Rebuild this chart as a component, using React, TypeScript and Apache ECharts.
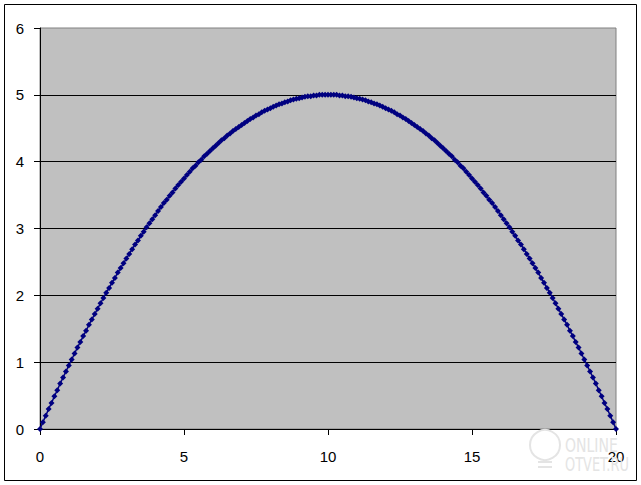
import React, { useEffect, useRef } from "react";
import * as echarts from "echarts";

const xValues: number[] = [
  0, 0.1, 0.2, 0.3, 0.4, 0.5, 0.6, 0.7, 0.8, 0.9,
  1, 1.1, 1.2, 1.3, 1.4, 1.5, 1.6, 1.7, 1.8, 1.9,
  2, 2.1, 2.2, 2.3, 2.4, 2.5, 2.6, 2.7, 2.8, 2.9,
  3, 3.1, 3.2, 3.3, 3.4, 3.5, 3.6, 3.7, 3.8, 3.9,
  4, 4.1, 4.2, 4.3, 4.4, 4.5, 4.6, 4.7, 4.8, 4.9,
  5, 5.1, 5.2, 5.3, 5.4, 5.5, 5.6, 5.7, 5.8, 5.9,
  6, 6.1, 6.2, 6.3, 6.4, 6.5, 6.6, 6.7, 6.8, 6.9,
  7, 7.1, 7.2, 7.3, 7.4, 7.5, 7.6, 7.7, 7.8, 7.9,
  8, 8.1, 8.2, 8.3, 8.4, 8.5, 8.6, 8.7, 8.8, 8.9,
  9, 9.1, 9.2, 9.3, 9.4, 9.5, 9.6, 9.7, 9.8, 9.9,
  10, 10.1, 10.2, 10.3, 10.4, 10.5, 10.6, 10.7, 10.8, 10.9,
  11, 11.1, 11.2, 11.3, 11.4, 11.5, 11.6, 11.7, 11.8, 11.9,
  12, 12.1, 12.2, 12.3, 12.4, 12.5, 12.6, 12.7, 12.8, 12.9,
  13, 13.1, 13.2, 13.3, 13.4, 13.5, 13.6, 13.7, 13.8, 13.9,
  14, 14.1, 14.2, 14.3, 14.4, 14.5, 14.6, 14.7, 14.8, 14.9,
  15, 15.1, 15.2, 15.3, 15.4, 15.5, 15.6, 15.7, 15.8, 15.9,
  16, 16.1, 16.2, 16.3, 16.4, 16.5, 16.6, 16.7, 16.8, 16.9,
  17, 17.1, 17.2, 17.3, 17.4, 17.5, 17.6, 17.7, 17.8, 17.9,
  18, 18.1, 18.2, 18.3, 18.4, 18.5, 18.6, 18.7, 18.8, 18.9,
  19, 19.1, 19.2, 19.3, 19.4, 19.5, 19.6, 19.7, 19.8, 19.9,
  20,
];

const yValues: number[] = [
  0, 0.1, 0.2, 0.3, 0.39, 0.49, 0.58, 0.68, 0.77, 0.86,
  0.95, 1.04, 1.13, 1.22, 1.3, 1.39, 1.47, 1.56, 1.64, 1.72,
  1.8, 1.88, 1.96, 2.04, 2.11, 2.19, 2.26, 2.34, 2.41, 2.48,
  2.55, 2.62, 2.69, 2.76, 2.82, 2.89, 2.95, 3.02, 3.08, 3.14,
  3.2, 3.26, 3.32, 3.38, 3.43, 3.49, 3.54, 3.6, 3.65, 3.7,
  3.75, 3.8, 3.85, 3.9, 3.94, 3.99, 4.03, 4.08, 4.12, 4.16,
  4.2, 4.24, 4.28, 4.32, 4.35, 4.39, 4.42, 4.46, 4.49, 4.52,
  4.55, 4.58, 4.61, 4.64, 4.66, 4.69, 4.71, 4.74, 4.76, 4.78,
  4.8, 4.82, 4.84, 4.86, 4.87, 4.89, 4.9, 4.92, 4.93, 4.94,
  4.95, 4.96, 4.97, 4.98, 4.98, 4.99, 4.99, 5, 5, 5,
  5, 5, 5, 5, 4.99, 4.99, 4.98, 4.98, 4.97, 4.96,
  4.95, 4.94, 4.93, 4.92, 4.9, 4.89, 4.87, 4.86, 4.84, 4.82,
  4.8, 4.78, 4.76, 4.74, 4.71, 4.69, 4.66, 4.64, 4.61, 4.58,
  4.55, 4.52, 4.49, 4.46, 4.42, 4.39, 4.35, 4.32, 4.28, 4.24,
  4.2, 4.16, 4.12, 4.08, 4.03, 3.99, 3.94, 3.9, 3.85, 3.8,
  3.75, 3.7, 3.65, 3.6, 3.54, 3.49, 3.43, 3.38, 3.32, 3.26,
  3.2, 3.14, 3.08, 3.02, 2.95, 2.89, 2.82, 2.76, 2.69, 2.62,
  2.55, 2.48, 2.41, 2.34, 2.26, 2.19, 2.11, 2.04, 1.96, 1.88,
  1.8, 1.72, 1.64, 1.56, 1.47, 1.39, 1.3, 1.22, 1.13, 1.04,
  0.95, 0.86, 0.77, 0.68, 0.58, 0.49, 0.39, 0.3, 0.2, 0.1,
  0,
];

const xAxisMin = 0;
const xAxisMax = 20;
const xAxisStep = 5;
const yAxisMin = 0;
const yAxisMax = 6;
const yAxisStep = 1;

export default function App() {
  const ref = useRef<HTMLDivElement>(null);

  useEffect(() => {
    if (!ref.current) return;
    const chart = echarts.init(ref.current, undefined, { renderer: "svg" });
    const points = xValues.map((x, i) => [x, yValues[i]]);
    const font = "Arial, 'Liberation Sans', sans-serif";
    const wmFont = "'DejaVu Sans Condensed', 'DejaVu Sans', sans-serif";
    chart.setOption({
      animation: false,
      backgroundColor: "#ffffff",
      grid: {
        left: 40,
        top: 28,
        right: 25,
        bottom: 56,
        show: true,
        backgroundColor: "#C0C0C0",
        borderColor: "#808080",
        borderWidth: 1,
      },
      xAxis: {
        type: "value",
        min: xAxisMin,
        max: xAxisMax,
        interval: xAxisStep,
        axisLine: { show: true, onZero: false, lineStyle: { color: "#000000", width: 1 } },
        axisTick: { show: true, inside: false, length: 6, lineStyle: { color: "#000000" } },
        axisLabel: { color: "#000000", fontSize: 15, fontFamily: font, margin: 20 },
        splitLine: { show: false },
      },
      yAxis: {
        type: "value",
        min: yAxisMin,
        max: yAxisMax,
        interval: yAxisStep,
        axisLine: { show: true, onZero: false, lineStyle: { color: "#000000", width: 1 } },
        axisTick: { show: true, inside: false, length: 6, lineStyle: { color: "#000000" } },
        axisLabel: { color: "#000000", fontSize: 15, fontFamily: font, margin: 16 },
        splitLine: {
          show: true,
          showMinLine: false,
          showMaxLine: false,
          lineStyle: { color: "#000000", width: 1 },
        },
      },
      graphic: [
        {
          type: "rect",
          shape: { x: 4.5, y: 4.5, width: 632, height: 476 },
          style: { fill: "none", stroke: "#000000", lineWidth: 1 },
          z: 100,
          silent: true,
        },
        {
          type: "circle",
          shape: { cx: 545, cy: 445, r: 15 },
          style: { fill: "none", stroke: "#e4e4e4", lineWidth: 2 },
          z: 1,
          silent: true,
        },
        {
          type: "polyline",
          shape: { points: [[538, 462], [552, 462]] },
          style: { stroke: "#e4e4e4", lineWidth: 2 },
          z: 1,
          silent: true,
        },
        {
          type: "polyline",
          shape: { points: [[538, 467], [552, 467]] },
          style: { stroke: "#e4e4e4", lineWidth: 2 },
          z: 1,
          silent: true,
        },
        {
          type: "text",
          x: 565,
          y: 435,
          scaleX: 0.78,
          style: { text: "ONLINE", fill: "#e4e4e4", fontSize: 20, fontFamily: wmFont },
          z: 1,
          silent: true,
        },
        {
          type: "text",
          x: 565,
          y: 454,
          scaleX: 0.72,
          style: { text: "OTVET.RU", fill: "#e4e4e4", fontSize: 20, fontFamily: wmFont },
          z: 1,
          silent: true,
        },
      ],
      series: [
        {
          type: "line",
          data: points,
          symbol: "diamond",
          symbolSize: 6,
          showAllSymbol: true,
          itemStyle: { color: "#000080" },
          lineStyle: { color: "#000080", width: 1.5 },
          z: 5,
        },
      ],
    });
    return () => chart.dispose();
  }, []);

  return (
    <div
      ref={ref}
      style={{ position: "absolute", left: 0, top: 0, width: 641, height: 485 }}
    />
  );
}
